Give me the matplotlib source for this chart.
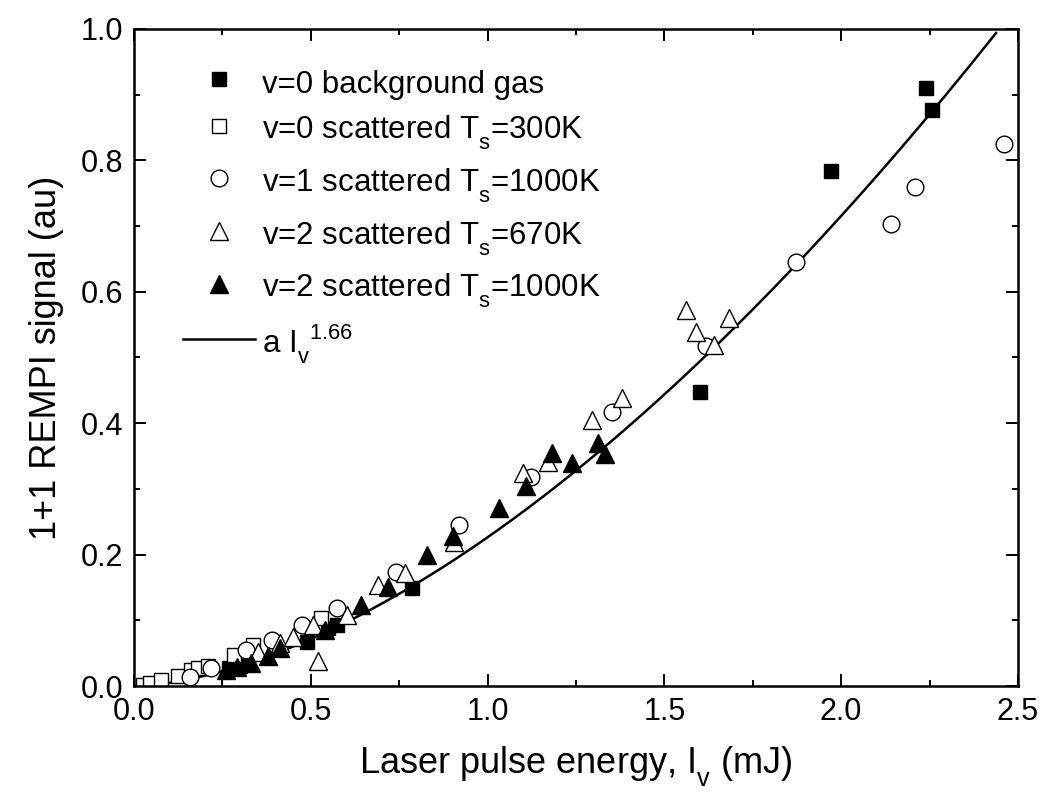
import numpy as np
import matplotlib
matplotlib.use("Agg")
import matplotlib.pyplot as plt

plt.rcParams['font.family'] = ['Liberation Sans', 'DejaVu Sans']
plt.rcParams['mathtext.fontset'] = 'custom'
plt.rcParams['mathtext.rm'] = 'Liberation Sans'
plt.rcParams['mathtext.it'] = 'Liberation Sans:italic'
try:
    import matplotlib._mathtext as _mt
    _mt.FontConstantsBase.sub1 = 0.65
    _mt.FontConstantsBase.sup1 = 0.75
except Exception:
    pass

# ---- data ----
bg_x = [0.27, 0.30, 0.49, 0.55, 0.575, 0.785, 1.602, 1.972, 2.240, 2.257]
bg_y = [0.027, 0.030, 0.067, 0.088, 0.093, 0.149, 0.447, 0.784, 0.910, 0.877]

s300_x = [0.025, 0.045, 0.077, 0.124, 0.160, 0.181, 0.210, 0.284, 0.336, 0.530]
s300_y = [0.002, 0.004, 0.009, 0.016, 0.025, 0.028, 0.031, 0.047, 0.063, 0.103]

c1000_x = [0.157, 0.218, 0.318, 0.389, 0.474, 0.573, 0.740, 0.918, 1.124, 1.353, 1.619, 1.873, 2.141, 2.209, 2.460]
c1000_y = [0.014, 0.027, 0.055, 0.070, 0.093, 0.118, 0.174, 0.245, 0.318, 0.417, 0.518, 0.645, 0.703, 0.760, 0.825]

t670_x = [0.351, 0.412, 0.449, 0.506, 0.520, 0.601, 0.689, 0.766, 0.904, 1.099, 1.172, 1.294, 1.381, 1.562, 1.590, 1.641, 1.684]
t670_y = [0.052, 0.065, 0.075, 0.093, 0.038, 0.108, 0.154, 0.172, 0.219, 0.324, 0.341, 0.405, 0.438, 0.572, 0.539, 0.519, 0.560]

t1000_x = [0.26, 0.29, 0.332, 0.379, 0.412, 0.54, 0.643, 0.718, 0.828, 0.901, 1.031, 1.110, 1.181, 1.240, 1.311, 1.333]
t1000_y = [0.025, 0.029, 0.035, 0.045, 0.058, 0.085, 0.123, 0.150, 0.199, 0.228, 0.271, 0.304, 0.355, 0.339, 0.370, 0.353]

fit_a = 0.2264
fit_n = 1.66
fit_xmax = 2.438

labels = ['v=0 background gas',
          r'v=0 scattered T$_{\rm s}$=300K',
          r'v=1 scattered T$_{\rm s}$=1000K',
          r'v=2 scattered T$_{\rm s}$=670K',
          r'v=2 scattered T$_{\rm s}$=1000K',
          r'a I$_{\rm v}$$^{\rm 1.66}$']

fig = plt.figure(figsize=(10.43, 7.94), dpi=100)
ax = fig.add_axes([0.1285, 0.136, 0.8475, 0.8275])

ms = dict(linestyle='none', markeredgecolor='black', markeredgewidth=1.0)
h1, = ax.plot(bg_x, bg_y, marker='s', markersize=10.5, markerfacecolor='black', **ms)
h2, = ax.plot(s300_x, s300_y, marker='s', markersize=10.5, markerfacecolor='white', **ms)
h3, = ax.plot(c1000_x, c1000_y, marker='o', markersize=12, markerfacecolor='white', **ms)
h4, = ax.plot(t670_x, t670_y, marker='^', markersize=12.5, markerfacecolor='white', **ms)
h5, = ax.plot(t1000_x, t1000_y, marker='^', markersize=12.5, markerfacecolor='black', **ms)

xf = np.linspace(0, fit_xmax, 300)
h6, = ax.plot(xf, fit_a * xf ** fit_n, color='black', linewidth=1.8, zorder=1)

ax.set_xlim(0, 2.5)
ax.set_ylim(0, 1.0)
ax.set_xticks([0.0, 0.5, 1.0, 1.5, 2.0, 2.5])
ax.set_xticks(np.arange(0, 2.51, 0.25), minor=True)
ax.set_yticks([0.0, 0.2, 0.4, 0.6, 0.8, 1.0])
ax.set_yticks(np.arange(0, 1.01, 0.1), minor=True)
ax.xaxis.set_major_formatter(matplotlib.ticker.FormatStrFormatter('%.1f'))
ax.yaxis.set_major_formatter(matplotlib.ticker.FormatStrFormatter('%.1f'))
ax.tick_params(which='both', direction='in', top=True, right=True, width=1.4)
ax.tick_params(which='major', length=8.5, labelsize=22, pad=8)
ax.tick_params(which='minor', length=4.5)
for s in ax.spines.values():
    s.set_linewidth(1.8)

ax.set_xlabel(r'Laser pulse energy, I$_{\rm v}$ (mJ)', fontsize=26, labelpad=12)
ax.set_ylabel('1+1 REMPI signal (au)', fontsize=26, labelpad=12)

leg = ax.legend([h1, h2, h3, h4, h5, h6], labels, loc='upper left',
                bbox_to_anchor=(0.055, 0.944), frameon=False, fontsize=22.5,
                handlelength=2.32, handletextpad=0.23, labelspacing=0.4,
                handleheight=1.25, numpoints=1, borderaxespad=0, borderpad=0)

fig.savefig('out.png', dpi=100)
